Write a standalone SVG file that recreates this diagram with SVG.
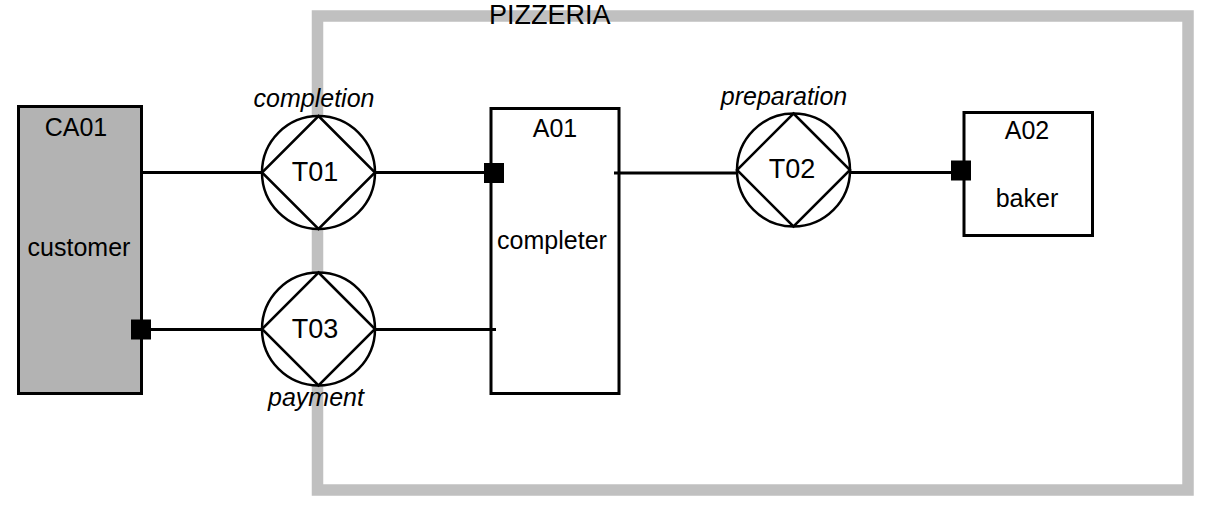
<svg xmlns="http://www.w3.org/2000/svg" width="1212" height="513" viewBox="0 0 1212 513">
<style>
.box{fill:#fff;stroke:#000;stroke-width:3}
.actor{fill:#b3b3b3;stroke:#000;stroke-width:3}
.circ{fill:#fff;stroke:#000;stroke-width:2.5}
.dia{fill:none;stroke:#000;stroke-width:2.5;stroke-linejoin:miter}
.ln{stroke:#000;stroke-width:3.2;fill:none}
.sq{fill:#000}
text{font-family:"Liberation Sans",Arial,sans-serif;fill:#000}
.lbl{font-size:25px;text-anchor:middle}
.tid{font-size:27px;text-anchor:middle}
.it{font-size:25px;font-style:italic;text-anchor:middle}
</style>
<g id="boundary">
<rect x="317.5" y="16" width="870.5" height="474" fill="none" stroke="#c0c0c0" stroke-width="11.5"/>
<text x="489" y="23.5" font-size="27">PIZZERIA</text>
</g>
<g id="CA01">
<rect class="actor" x="18.5" y="106.5" width="123" height="287"/>
<text class="lbl" x="76" y="136" font-size="26">CA01</text>
<text class="lbl" x="79" y="256">customer</text>
</g>
<g id="A01">
<rect class="box" x="491" y="108.5" width="128" height="285"/>
<text class="lbl" x="555" y="137" font-size="26">A01</text>
<text class="lbl" x="552" y="249">completer</text>
</g>
<g id="A02">
<rect class="box" x="964" y="112.5" width="128.5" height="123"/>
<text class="lbl" x="1027" y="139" font-size="26">A02</text>
<text class="lbl" x="1027" y="207" font-size="24">baker</text>
</g>
<g id="T01">
<circle class="circ" cx="318.5" cy="172.5" r="56.5"/>
<path class="dia" d="M318.5 116 L375 172.5 L318.5 229 L262 172.5 Z"/>
<text class="tid" x="315" y="181">T01</text>
<text class="it" x="314" y="107">completion</text>
</g>
<g id="T03">
<circle class="circ" cx="318.5" cy="329" r="56.5"/>
<path class="dia" d="M318.5 272.5 L375 329 L318.5 385.5 L262 329 Z"/>
<text class="tid" x="315" y="338">T03</text>
<text class="it" x="316" y="406">payment</text>
</g>
<g id="T02">
<circle class="circ" cx="793.5" cy="170" r="56.5"/>
<path class="dia" d="M793.5 113.5 L850 170 L793.5 226.5 L737 170 Z"/>
<text class="tid" x="792" y="178">T02</text>
<text class="it" x="784" y="105">preparation</text>
</g>
<g id="connectors">
<line class="ln" x1="143" y1="172.5" x2="262" y2="172.5"/>
<line class="ln" x1="375" y1="172.5" x2="486" y2="172.5"/>
<rect class="sq" x="484" y="163" width="20" height="20"/>
<line class="ln" x1="151" y1="329.5" x2="262" y2="329.5"/>
<rect class="sq" x="131" y="319.5" width="20" height="20"/>
<line class="ln" x1="375" y1="329.5" x2="496" y2="329.5"/>
<line class="ln" x1="614" y1="173" x2="737" y2="173"/>
<line class="ln" x1="850" y1="172.5" x2="953" y2="172.5"/>
<rect class="sq" x="951" y="160.5" width="20" height="20"/>
</g>
</svg>
